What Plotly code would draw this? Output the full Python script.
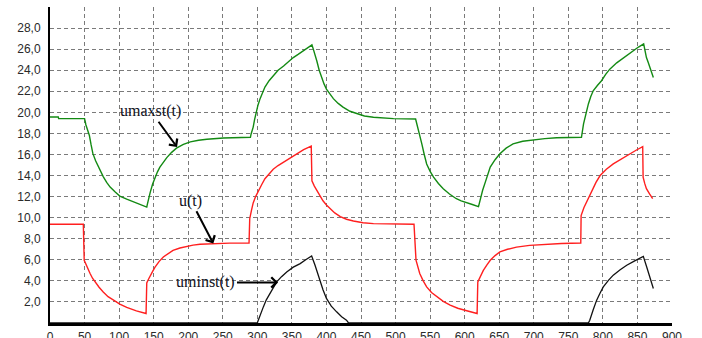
import plotly.graph_objects as go

# time axis ticks
x_ticks = list(range(0, 901, 50))
y_ticks = list(range(2, 29, 2))

# umaxst(t)
t_umax = [0, 12, 12.5, 50, 52, 54.5, 57, 59.5, 62, 66, 70, 73.5, 77, 82, 87, 94, 101, 111, 121, 130, 140,
          141, 143, 145, 148.5, 152, 155.5, 159, 164, 169, 176, 183, 193, 203, 215, 227, 251, 270, 290,
          291, 294, 296, 298, 301, 304, 307.5, 311, 317, 323, 330, 338, 345, 352, 359, 366, 372.5, 379,
          381, 383.5, 386, 389.5, 393, 396.5, 400, 405, 410, 417, 424, 434, 444, 455, 468, 482, 497, 529,
          531, 533, 535.5, 538, 541.5, 545, 550, 555, 562, 569, 578, 588, 595, 603, 611, 620,
          622, 626, 630, 633.5, 637, 644, 651, 660, 670, 684, 699, 716, 733, 769,
          772, 775.5, 779, 782.5, 786, 792, 798, 804, 810, 820, 830, 837, 844, 851.5, 859,
          861, 863, 865.5, 868, 870.5, 873]
v_umax = [19.55, 19.55, 19.4, 19.4, 18.8, 18.3, 17.8, 16.9, 16.1, 15.4, 14.8, 14.3, 13.9, 13.35, 12.9, 12.45, 12.05, 11.75, 11.5, 11.25, 11.0,
          11.3, 11.9, 12.4, 13.2, 13.85, 14.35, 14.8, 15.3, 15.7, 16.2, 16.6, 16.95, 17.2, 17.35, 17.45, 17.57, 17.6, 17.63,
          17.95, 18.6, 19.3, 20.0, 20.7, 21.3, 21.9, 22.4, 23.0, 23.5, 24.0, 24.4, 24.8, 25.2, 25.5, 25.8, 26.1, 26.4,
          26.0, 25.5, 24.9, 24.0, 23.3, 22.7, 22.2, 21.7, 21.3, 20.85, 20.5, 20.1, 19.85, 19.65, 19.53, 19.45, 19.4, 19.37,
          18.9, 18.3, 17.6, 17.0, 16.0, 15.1, 14.4, 13.85, 13.25, 12.75, 12.25, 11.8, 11.6, 11.45, 11.25, 11.05,
          11.6, 12.6, 13.4, 14.15, 14.8, 15.5, 16.06, 16.6, 17.0, 17.25, 17.4, 17.5, 17.58, 17.63,
          18.9, 19.9, 20.8, 21.5, 22.05, 22.55, 23.0, 23.6, 24.1, 24.7, 25.2, 25.55, 25.84, 26.2, 26.5,
          25.85, 25.2, 24.75, 24.3, 23.8, 23.3]

# u(t)
t_u = [0, 48.2, 49.5, 53.5, 58, 61.5, 65, 71, 77, 84, 92, 101, 111, 125, 139,
       140, 142.5, 145, 148.5, 152, 158, 164, 171, 178, 188, 198, 207, 217, 236, 260, 288,
       289, 291.5, 294, 297.5, 301, 306, 311, 317, 323, 330, 338, 347, 357, 367, 378,
       379, 382.5, 386, 390.5, 395, 400, 405, 412, 420, 429, 439, 453, 468, 495, 526.7,
       529.6, 532, 535, 540, 545, 552, 560, 569, 579, 590, 603, 618,
       619, 623, 627, 632, 637, 644, 651, 662, 675, 694, 714, 740, 768,
       768.5, 772.5, 777, 784, 790, 796, 805, 815, 827, 839, 848, 857.6,
       858.2, 860.5, 863, 867.5, 872]
v_u = [9.37, 9.37, 5.96, 5.3, 4.7, 4.25, 3.9, 3.4, 2.95, 2.5, 2.17, 1.8, 1.48, 1.15, 0.9,
       3.8, 4.15, 4.5, 4.9, 5.3, 5.85, 6.27, 6.6, 6.9, 7.12, 7.28, 7.39, 7.47, 7.54, 7.58, 7.6,
       9.9, 10.7, 11.4, 12.0, 12.5, 13.1, 13.7, 14.15, 14.6, 14.95, 15.27, 15.65, 16.06, 16.45, 16.8,
       13.5, 13.0, 12.6, 12.05, 11.6, 11.2, 10.85, 10.45, 10.1, 9.85, 9.68, 9.52, 9.43, 9.38, 9.37,
       5.96, 5.3, 4.7, 4.0, 3.43, 2.9, 2.48, 2.05, 1.7, 1.4, 1.16, 0.9,
       3.9, 4.5, 5.0, 5.5, 5.96, 6.4, 6.75, 7.0, 7.2, 7.37, 7.47, 7.55, 7.6,
       10.2, 10.95, 11.6, 12.6, 13.35, 14.0, 14.6, 15.1, 15.6, 16.06, 16.4, 16.75,
       13.85, 13.25, 12.75, 12.25, 11.8]

# uminst(t)
t_umin = [0, 300, 301.4, 305, 308.7, 313, 318, 323, 328, 335, 342.5, 352, 362, 370, 378.6,
          383.5, 387, 390.7, 395, 400, 407, 414.7, 422, 429, 432,
          779, 781, 786, 791, 796, 800.6, 808, 815, 825, 834.5, 846, 858.5,
          863.4, 868, 873]
v_umin = [0, 0, 0.27, 0.95, 1.53, 2.2, 2.8, 3.4, 3.9, 4.4, 4.85, 5.3, 5.64, 6.0, 6.36,
          5.48, 4.75, 4.06, 3.15, 2.33, 1.6, 1.06, 0.6, 0.27, 0,
          0, 0.27, 1.25, 2.17, 2.85, 3.43, 4.05, 4.54, 5.05, 5.48, 5.9, 6.33,
          5.32, 4.37, 3.27]

fig = go.Figure()
fig.add_trace(go.Scatter(x=t_umax, y=v_umax, mode="lines",
                         line=dict(color="#138a13", width=1.4), showlegend=False))
fig.add_trace(go.Scatter(x=t_u, y=v_u, mode="lines",
                         line=dict(color="#ff1f1f", width=1.4), showlegend=False))
fig.add_trace(go.Scatter(x=t_umin, y=v_umin, mode="lines",
                         line=dict(color="#111111", width=1.3), showlegend=False))

label_font = dict(family="Liberation Serif, Times New Roman, serif", size=16, color="#101020")
arrow = dict(showarrow=True, arrowhead=4, arrowsize=1, arrowwidth=2, arrowcolor="#000000",
             xref="x", yref="y", axref="x", ayref="y")
fig.add_annotation(text="umaxst(t)", x=183.8, y=16.7, ax=146, ay=20.1, font=label_font, **arrow)
fig.add_annotation(text="u(t)", x=236.3, y=7.54, ax=204, ay=11.6, font=label_font, **arrow)
fig.add_annotation(text="uminst(t)", x=330, y=3.85, ax=225.7, ay=3.85, font=label_font, **arrow)

tick_font = dict(family="Liberation Sans, Arial, sans-serif", size=12, color="#2a2a2a")
fig.update_layout(
    width=702, height=338,
    margin=dict(l=50, r=30, t=7, b=15, pad=0),
    paper_bgcolor="white", plot_bgcolor="white",
    separators=",.",
    xaxis=dict(range=[0, 900], tickvals=x_ticks, showgrid=True, gridcolor="#7a7a7a",
               griddash="4px,3px", gridwidth=1, showline=True, linecolor="black",
               linewidth=3, zeroline=False, ticks="", tickfont=tick_font,
               ticklabelstandoff=1, automargin=False),
    yaxis=dict(range=[0, 30], tickvals=y_ticks, tickformat=".1f", showgrid=True,
               gridcolor="#7a7a7a", griddash="4px,3px", gridwidth=1, showline=True,
               linecolor="black", linewidth=2, zeroline=False, ticks="",
               tickfont=tick_font, ticklabelstandoff=5, automargin=False),
)

fig.write_html("out.html")
